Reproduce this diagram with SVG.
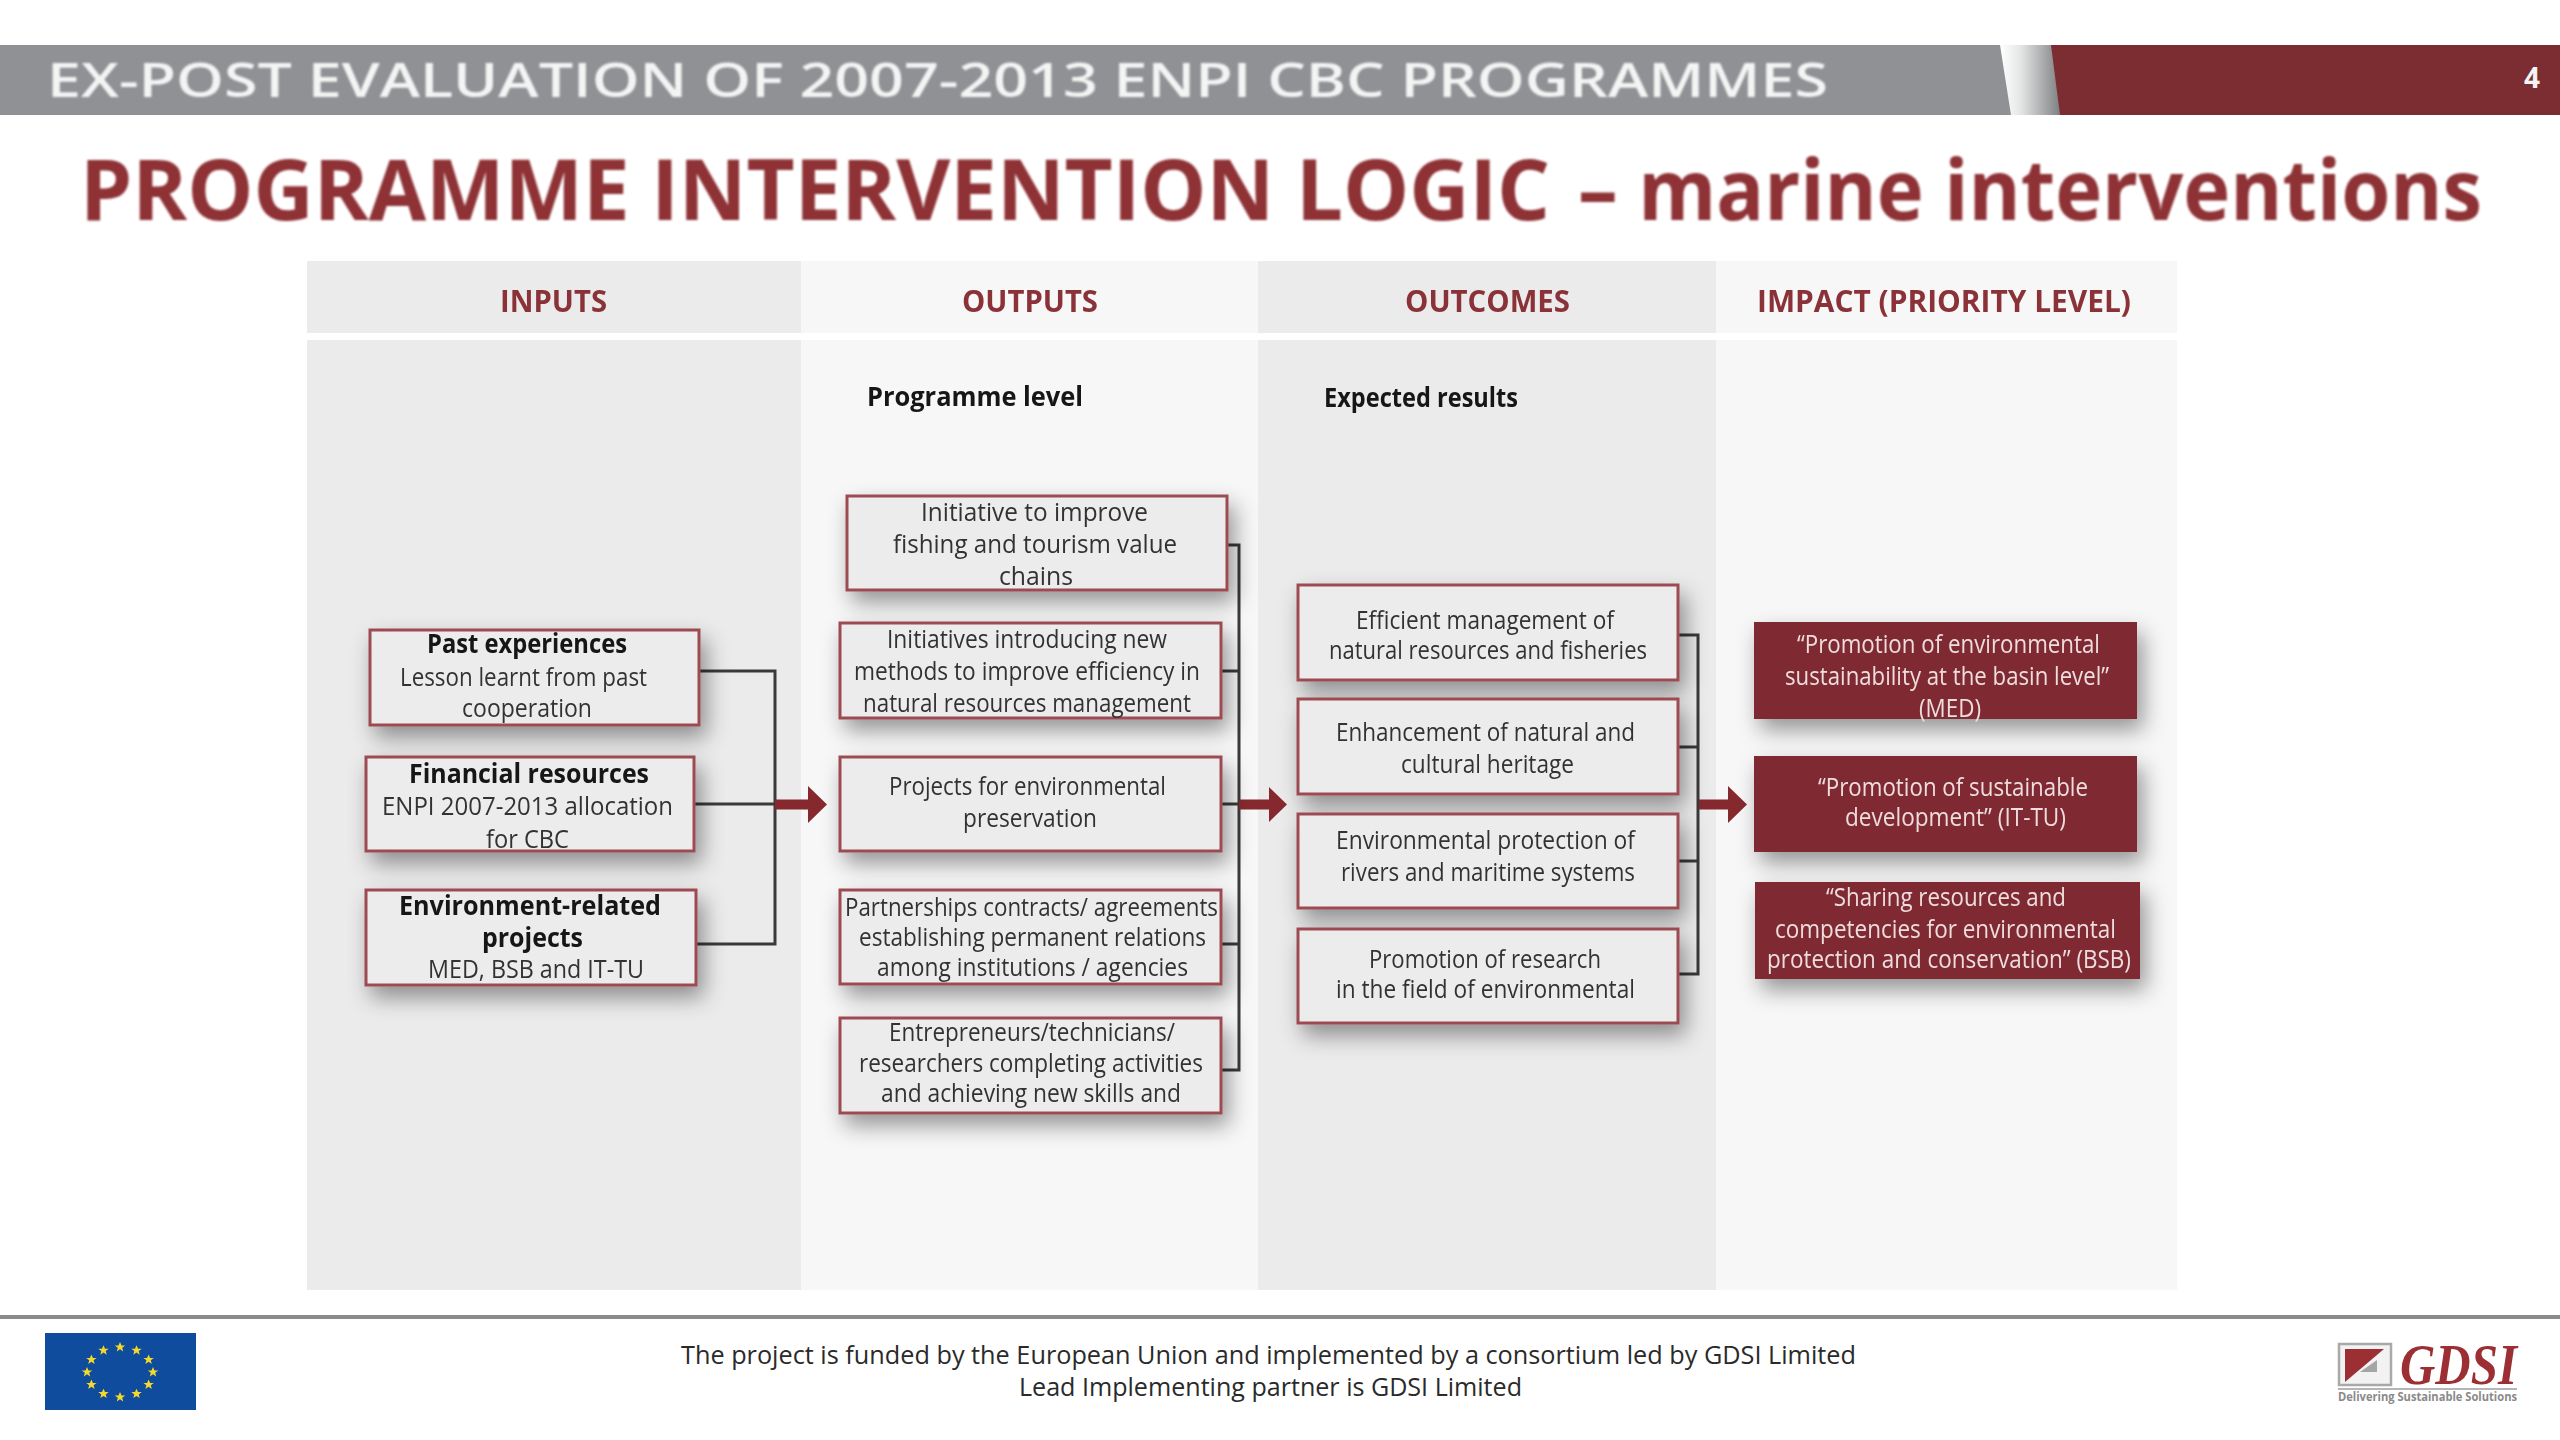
<svg xmlns="http://www.w3.org/2000/svg" width="2560" height="1440" viewBox="0 0 2560 1440">
<style>
text{font-family:"Open Sans","Noto Sans","Liberation Sans",sans-serif}
.t{font-size:25px;fill:#333;filter:url(#soft);transform:translateY(1px)}
.b{font-size:26px;font-weight:700;fill:#151515;filter:url(#soft);transform:translateY(1px)}
.w{font-size:25px;fill:#eeddde;filter:url(#soft);transform:translateY(1px)}
.h{font-size:30px;font-weight:700;fill:#8a3338;filter:url(#soft)}
.box{fill:#ececec;stroke:#9c4c52;stroke-width:3;filter:url(#shadow)}
.imp{fill:#7f2c31;filter:url(#shadow)}
.bus{fill:none;stroke:#3a3a3a;stroke-width:3}
.arr{fill:#86292e}
.f{font-size:26px;fill:#2a2a2a}
</style>
<defs>
<filter id="shadow" x="-15%" y="-25%" width="135%" height="170%"><feDropShadow dx="6" dy="11" stdDeviation="11" flood-color="#000" flood-opacity="0.4"/></filter>
<filter id="soft" x="-5%" y="-20%" width="110%" height="140%"><feGaussianBlur stdDeviation="0.6"/></filter>
<filter id="soft2" x="-2%" y="-20%" width="104%" height="140%"><feGaussianBlur stdDeviation="0.8"/></filter>
<linearGradient id="sep" x1="0" y1="0" x2="1" y2="0"><stop offset="0" stop-color="#fff"/><stop offset="0.35" stop-color="#e4e5e5"/><stop offset="1" stop-color="#7e8082"/></linearGradient>
<polygon id="star" points="0,-5 1.5,-1.6 5.2,-1.6 2.2,0.7 3.2,4.4 0,2.3 -3.2,4.4 -2.2,0.7 -5.2,-1.6 -1.5,-1.6" fill="#f2d92b"/>
</defs>
<rect width="2560" height="1440" fill="#fff"/>
<g id="header">
<rect x="0" y="45" width="2560" height="70" fill="#8f9195"/>
<polygon points="2000,45 2051,45 2060,115 2011,115" fill="url(#sep)"/>
<polygon points="2051,45 2560,45 2560,115 2060,115" fill="#7b2d31"/>
<text x="47" y="97" font-size="47" font-weight="600" fill="#f4f4f4" filter="url(#soft2)" textLength="1781" lengthAdjust="spacingAndGlyphs">EX-POST EVALUATION OF 2007-2013 ENPI CBC PROGRAMMES</text>
<text x="2524" y="88" font-size="28" font-weight="700" fill="#f4f4f4">4</text>
</g>
<text id="title" y="220" font-size="84" font-weight="700" fill="#8e3034" filter="url(#soft2)"><tspan x="80" textLength="1470" lengthAdjust="spacingAndGlyphs">PROGRAMME INTERVENTION LOGIC</tspan> <tspan x="1578" textLength="904" lengthAdjust="spacingAndGlyphs">– marine interventions</tspan></text>
<g id="columns">
<rect x="307" y="261" width="494" height="72" fill="#ebebeb"/><rect x="801" y="261" width="457" height="72" fill="#f7f7f7"/><rect x="1258" y="261" width="458" height="72" fill="#ebebeb"/><rect x="1716" y="261" width="461" height="72" fill="#f7f7f7"/>
<rect x="307" y="340" width="494" height="950" fill="#ebebeb"/><rect x="801" y="340" width="457" height="950" fill="#f7f7f7"/><rect x="1258" y="340" width="458" height="950" fill="#ebebeb"/><rect x="1716" y="340" width="461" height="950" fill="#f7f7f7"/>
<text class="h" x="500" y="312" textLength="107" lengthAdjust="spacingAndGlyphs">INPUTS</text>
<text class="h" x="962" y="312" textLength="136" lengthAdjust="spacingAndGlyphs">OUTPUTS</text>
<text class="h" x="1405" y="312" textLength="165" lengthAdjust="spacingAndGlyphs">OUTCOMES</text>
<text class="h" x="1757" y="312" textLength="374" lengthAdjust="spacingAndGlyphs">IMPACT (PRIORITY LEVEL)</text>
<text class="b" x="867" y="405" textLength="216" lengthAdjust="spacingAndGlyphs">Programme level</text>
<text class="b" x="1324" y="406" textLength="194" lengthAdjust="spacingAndGlyphs">Expected results</text>
</g>
<g id="connectors">
<path class="bus" d="M699 671H775V944H696M694 804H775"/>
<path class="arr" d="M775 799.500H808V786L827 804.500L808 823V809.500H775Z"/>
<path class="bus" d="M1227 545H1239V1070H1221M1221 671H1239M1221 804H1239M1221 944H1239"/>
<path class="arr" d="M1239 799.500H1269V787L1287 804.500L1269 822V809.500H1239Z"/>
<path class="bus" d="M1678 635H1698V974H1678M1678 747H1698M1678 861H1698"/>
<path class="arr" d="M1699 799.500H1728V786L1747 804.500L1728 823V809.500H1699Z"/>
</g>
<g id="in1"><rect class="box" x="370" y="630" width="329" height="95"/>
<text class="b" x="427" y="652" textLength="200" lengthAdjust="spacingAndGlyphs">Past experiences</text>
<text class="t" x="400" y="685" textLength="247" lengthAdjust="spacingAndGlyphs">Lesson learnt from past</text>
<text class="t" x="462" y="716" textLength="130" lengthAdjust="spacingAndGlyphs">cooperation</text></g>
<g id="in2"><rect class="box" x="366" y="757" width="328" height="94"/>
<text class="b" x="409" y="782" textLength="240" lengthAdjust="spacingAndGlyphs">Financial resources</text>
<text class="t" x="382" y="814" textLength="291" lengthAdjust="spacingAndGlyphs">ENPI 2007-2013 allocation</text>
<text class="t" x="486" y="847" textLength="83" lengthAdjust="spacingAndGlyphs">for CBC</text></g>
<g id="in3"><rect class="box" x="366" y="890" width="330" height="95"/>
<text class="b" x="399" y="914" textLength="262" lengthAdjust="spacingAndGlyphs">Environment-related</text>
<text class="b" x="482" y="946" textLength="101" lengthAdjust="spacingAndGlyphs">projects</text>
<text class="t" x="428" y="977" textLength="216" lengthAdjust="spacingAndGlyphs">MED, BSB and IT-TU</text></g>
<g id="out1"><rect class="box" x="847" y="496" width="380" height="94"/>
<text class="t" x="921" y="520" textLength="227" lengthAdjust="spacingAndGlyphs">Initiative to improve</text>
<text class="t" x="893" y="552" textLength="284" lengthAdjust="spacingAndGlyphs">fishing and tourism value</text>
<text class="t" x="999" y="584" textLength="74" lengthAdjust="spacingAndGlyphs">chains</text></g>
<g id="out2"><rect class="box" x="840" y="623" width="381" height="95"/>
<text class="t" x="887" y="647" textLength="280" lengthAdjust="spacingAndGlyphs">Initiatives introducing new</text>
<text class="t" x="854" y="679" textLength="346" lengthAdjust="spacingAndGlyphs">methods to improve efficiency in</text>
<text class="t" x="863" y="711" textLength="328" lengthAdjust="spacingAndGlyphs">natural resources management</text></g>
<g id="out3"><rect class="box" x="840" y="757" width="381" height="94"/>
<text class="t" x="889" y="794" textLength="277" lengthAdjust="spacingAndGlyphs">Projects for environmental</text>
<text class="t" x="963" y="826" textLength="134" lengthAdjust="spacingAndGlyphs">preservation</text></g>
<g id="out4"><rect class="box" x="840" y="890" width="381" height="94"/>
<text class="t" x="845" y="915" textLength="373" lengthAdjust="spacingAndGlyphs">Partnerships contracts/ agreements</text>
<text class="t" x="859" y="945" textLength="347" lengthAdjust="spacingAndGlyphs">establishing permanent relations</text>
<text class="t" x="877" y="975" textLength="311" lengthAdjust="spacingAndGlyphs">among institutions / agencies</text></g>
<g id="out5"><rect class="box" x="840" y="1018" width="381" height="95"/>
<text class="t" x="889" y="1040" textLength="286" lengthAdjust="spacingAndGlyphs">Entrepreneurs/technicians/</text>
<text class="t" x="859" y="1071" textLength="344" lengthAdjust="spacingAndGlyphs">researchers completing activities</text>
<text class="t" x="881" y="1101" textLength="300" lengthAdjust="spacingAndGlyphs">and achieving new skills and</text></g>
<g id="oc1"><rect class="box" x="1298" y="585" width="380" height="95"/>
<text class="t" x="1356" y="628" textLength="258" lengthAdjust="spacingAndGlyphs">Efficient management of</text>
<text class="t" x="1329" y="658" textLength="318" lengthAdjust="spacingAndGlyphs">natural resources and fisheries</text></g>
<g id="oc2"><rect class="box" x="1298" y="699" width="380" height="95"/>
<text class="t" x="1336" y="740" textLength="299" lengthAdjust="spacingAndGlyphs">Enhancement of natural and</text>
<text class="t" x="1401" y="772" textLength="173" lengthAdjust="spacingAndGlyphs">cultural heritage</text></g>
<g id="oc3"><rect class="box" x="1298" y="814" width="380" height="94"/>
<text class="t" x="1336" y="848" textLength="299" lengthAdjust="spacingAndGlyphs">Environmental protection of</text>
<text class="t" x="1341" y="880" textLength="294" lengthAdjust="spacingAndGlyphs">rivers and maritime systems</text></g>
<g id="oc4"><rect class="box" x="1298" y="929" width="380" height="94"/>
<text class="t" x="1369" y="967" textLength="232" lengthAdjust="spacingAndGlyphs">Promotion of research</text>
<text class="t" x="1336" y="997" textLength="299" lengthAdjust="spacingAndGlyphs">in the field of environmental</text></g>
<g id="imp1"><rect class="imp" x="1754" y="622" width="383" height="97"/>
<text class="w" x="1797" y="652" textLength="303" lengthAdjust="spacingAndGlyphs">“Promotion of environmental</text>
<text class="w" x="1785" y="684" textLength="324" lengthAdjust="spacingAndGlyphs">sustainability at the basin level”</text>
<text class="w" x="1919" y="716" textLength="62" lengthAdjust="spacingAndGlyphs">(MED)</text></g>
<g id="imp2"><rect class="imp" x="1754" y="756" width="383" height="96"/>
<text class="w" x="1818" y="795" textLength="270" lengthAdjust="spacingAndGlyphs">“Promotion of sustainable</text>
<text class="w" x="1845" y="825" textLength="221" lengthAdjust="spacingAndGlyphs">development” (IT-TU)</text></g>
<g id="imp3"><rect class="imp" x="1755" y="882" width="385" height="97"/>
<text class="w" x="1826" y="905" textLength="240" lengthAdjust="spacingAndGlyphs">“Sharing resources and</text>
<text class="w" x="1775" y="937" textLength="341" lengthAdjust="spacingAndGlyphs">competencies for environmental</text>
<text class="w" x="1767" y="967" textLength="364" lengthAdjust="spacingAndGlyphs">protection and conservation” (BSB)</text></g>
<g id="footer">
<rect x="0" y="1315" width="2560" height="4" fill="#8b8b8b"/>
<text class="f" x="681" y="1364" textLength="1175" lengthAdjust="spacingAndGlyphs">The project is funded by the European Union and implemented by a consortium led by GDSI Limited</text>
<text class="f" x="1019" y="1396" textLength="503" lengthAdjust="spacingAndGlyphs">Lead Implementing partner is GDSI Limited</text>
</g>
<g id="eu-flag">
<rect x="45" y="1333" width="151" height="77" fill="#0f4c9e"/>
<use href="#star" x="120" y="1347"/><use href="#star" x="136.500" y="1350.300"/><use href="#star" x="148.600" y="1359.500"/><use href="#star" x="153" y="1372"/><use href="#star" x="148.600" y="1384.500"/><use href="#star" x="136.500" y="1393.700"/><use href="#star" x="120" y="1397"/><use href="#star" x="103.500" y="1393.700"/><use href="#star" x="91.400" y="1384.500"/><use href="#star" x="87" y="1372"/><use href="#star" x="91.400" y="1359.500"/><use href="#star" x="103.500" y="1350.300"/>
</g>
<g id="gdsi-logo">
<rect x="2339" y="1344" width="52" height="41" fill="#f2f2f2" stroke="#a9a9a9" stroke-width="2.500"/>
<polygon points="2345,1349 2384,1349 2345,1382" fill="#9c2f33"/>
<polygon points="2377,1360 2377,1372 2360,1372" fill="#a5a5a5"/>
<text x="2400" y="1384" font-size="56" font-style="italic" font-weight="700" fill="#9c2f33" textLength="117" lengthAdjust="spacingAndGlyphs" style="font-family:'Liberation Serif',serif">GDSI</text>
<rect x="2338" y="1388" width="179" height="2" fill="#b5b5b5"/>
<text x="2338" y="1401" font-size="12" fill="#8a8a8a" font-weight="700" textLength="179" lengthAdjust="spacingAndGlyphs">Delivering Sustainable Solutions</text>
</g>
</svg>
